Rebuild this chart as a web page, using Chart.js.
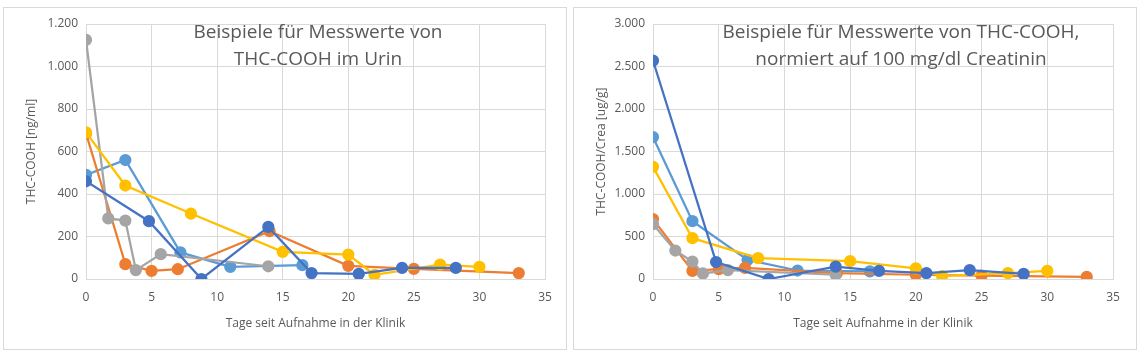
<!DOCTYPE html>
<html>
<head>
<meta charset="utf-8">
<script src="https://cdn.jsdelivr.net/npm/chart.js@4/dist/chart.umd.min.js"></script>
<style>
  html, body { margin:0; padding:0; background:#fff; width:1140px; height:355px; overflow:hidden; }
  .box { position:absolute; top:7px; width:564px; height:343px; border:1px solid #D9D9D9; box-sizing:border-box; background:#fff; }
  #b1 { left:3px; }
  #b2 { left:573px; }
  canvas { display:block; }
</style>
</head>
<body>
<div class="box" id="b1"><canvas id="c1" width="562" height="341"></canvas></div>
<div class="box" id="b2"><canvas id="c2" width="562" height="341"></canvas></div>
<script>
// ---- data ----
const seriesNames = ['Patient 1', 'Patient 2', 'Patient 3', 'Patient 4', 'Patient 5'];
const seriesColors = ['#5B9BD5', '#ED7D31', '#A5A5A5', '#FFC000', '#4472C4'];

const days1 = [0, 3, 7.2, 11, 16.5];
const days2 = [0, 3, 5, 7, 14, 20, 25, 33];
const days3 = [0, 1.7, 3, 3.8, 5.7, 13.9];
const days4 = [0, 3, 8, 15, 20, 22, 27, 30];
const days5 = [0, 4.8, 8.8, 13.9, 17.2, 20.8, 24.1, 28.2];

// THC-COOH im Urin [ng/ml]
const urin1 = [490, 560, 125, 57, 65];
const urin2 = [685, 70, 38, 46, 225, 62, 48, 28];
const urin3 = [1125, 285, 275, 42, 117, 60];
const urin4 = [690, 440, 308, 128, 115, 20, 68, 57];
const urin5 = [460, 272, 0, 245, 28, 24, 52, 52];

// THC-COOH/Crea [ug/g]
const crea1 = [1670, 680, 225, 100, 90];
const crea2 = [705, 95, 115, 130, 70, 50, 40, 25];
const crea3 = [645, 335, 205, 65, 105, 50];
const crea4 = [1320, 480, 245, 210, 125, 35, 70, 95];
const crea5 = [2570, 200, 0, 145, 95, 70, 105, 60];

const xTicks = [0, 5, 10, 15, 20, 25, 30, 35];
const title1 = ['Beispiele für Messwerte von', 'THC-COOH im Urin'];
const title2 = ['Beispiele für Messwerte von THC-COOH,', 'normiert auf 100 mg/dl Creatinin'];
const yTitle1 = 'THC-COOH [ng/ml]';
const yTitle2 = 'THC-COOH/Crea [ug/g]';
const xTitle = 'Tage seit Aufnahme in der Klinik';

const allDays = [days1, days2, days3, days4, days5];

function buildDatasets(vals) {
  const ds = vals.map((v, i) => ({
    label: seriesNames[i],
    data: allDays[i].map((d, k) => ({ x: d, y: v[k] })),
    borderColor: seriesColors[i],
    backgroundColor: seriesColors[i],
    pointBackgroundColor: seriesColors[i],
    pointBorderColor: seriesColors[i],
    borderWidth: 2.25,
    pointRadius: 5,
    pointHoverRadius: 5,
    tension: 0,
    showLine: true,
    fill: false
  }));
  return ds.reverse(); // last Excel series on top
}

const FONT = "'Open Sans', 'Liberation Sans', sans-serif";
const deFmt = new Intl.NumberFormat('de-DE');

function overlayTitle(lines, cx) {
  return {
    id: 'overlayTitle',
    afterDraw(chart) {
      const ctx = chart.ctx;
      ctx.save();
      ctx.font = '19px ' + FONT;
      ctx.fillStyle = '#595959';
      ctx.textAlign = 'center';
      ctx.textBaseline = 'middle';
      ctx.fillText(lines[0], cx, 25);
      ctx.fillText(lines[1], cx, 52);
      ctx.restore();
    }
  };
}

function makeChart(id, vals, yMax, yStep, yTitle, lines, cx, yAxisWidth, rightPad) {
  return new Chart(document.getElementById(id), {
    type: 'scatter',
    data: { datasets: buildDatasets(vals) },
    options: {
      responsive: false,
      devicePixelRatio: 1,
      animation: false,
      events: [],
      layout: { padding: { left: 0, right: rightPad, top: 16, bottom: 18 } },
      plugins: { legend: { display: false }, tooltip: { enabled: false }, title: { display: false } },
      scales: {
        x: {
          type: 'linear', min: 0, max: 35,
          afterBuildTicks: (s) => { s.ticks = xTicks.map(v => ({ value: v })); },
          afterFit: (s) => { s.height = 52; },
          grid: { color: '#D9D9D9', lineWidth: 1, drawTicks: false },
          border: { color: '#D9D9D9', width: 1 },
          ticks: { color: '#595959', font: { family: FONT, size: 12 }, padding: 11, maxRotation: 0 },
          title: { display: true, text: xTitle, color: '#595959', font: { family: FONT, size: 12 }, padding: { top: 0, bottom: 0 } }
        },
        y: {
          type: 'linear', min: 0, max: yMax,
          ticks: { stepSize: yStep, color: '#595959', font: { family: FONT, size: 12 }, padding: 8,
                   callback: (v) => deFmt.format(v) },
          afterFit: (s) => { s.width = yAxisWidth; },
          grid: { color: '#D9D9D9', lineWidth: 1, drawTicks: false },
          border: { display: false },
          title: { display: true, text: yTitle, color: '#595959', font: { family: FONT, size: 12 }, padding: { top: 20, bottom: 0 } }
        }
      }
    },
    plugins: [overlayTitle(lines, cx)]
  });
}

makeChart('c1', [urin1, urin2, urin3, urin4, urin5], 1200, 200, yTitle1, title1, 314, 82, 21);
makeChart('c2', [crea1, crea2, crea3, crea4, crea5], 3000, 500, yTitle2, title2, 327, 79, 23);
</script>
</body>
</html>
